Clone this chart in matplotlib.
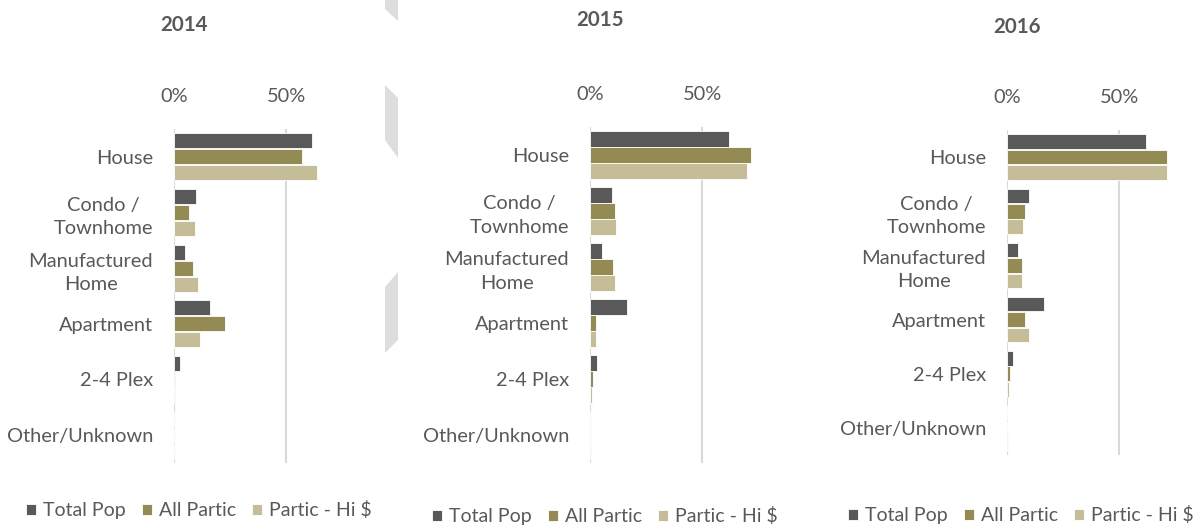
import matplotlib
matplotlib.use("Agg")
import matplotlib.pyplot as plt
import numpy as np
from matplotlib.patches import Polygon
from matplotlib.ticker import PercentFormatter

categories = ["House", "Condo /\nTownhome", "Manufactured\nHome", "Apartment", "2-4 Plex", "Other/Unknown"]
series_names = ["Total Pop", "All Partic", "Partic - Hi $"]
colors = ["#595959", "#948A54", "#C4BD97"]
years = ["2014", "2015", "2016"]

total_2014 = [61.5, 9.7, 5.0, 16.2, 2.5, 0.0]
partic_2014 = [57.0, 6.7, 8.5, 22.8, 0.5, 0.0]
hi_2014 = [64.0, 9.2, 10.6, 11.5, 0.5, 0.0]

total_2015 = [62.0, 10.0, 5.4, 16.7, 3.0, 0.0]
partic_2015 = [71.7, 11.0, 10.4, 2.5, 1.2, 0.0]
hi_2015 = [70.2, 11.6, 11.3, 2.5, 0.8, 0.5]

total_2016 = [62.0, 10.0, 5.0, 16.5, 2.8, 0.0]
partic_2016 = [71.6, 8.0, 6.9, 8.0, 1.3, 0.0]
hi_2016 = [71.6, 7.2, 6.6, 10.0, 1.0, 0.6]

panel_data = [
    [total_2014, partic_2014, hi_2014],
    [total_2015, partic_2015, hi_2015],
    [total_2016, partic_2016, hi_2016],
]

W, H = 1196, 525
text_color = "#595959"
plt.rcParams["font.family"] = ["Lato", "DejaVu Sans"]

fig = plt.figure(figsize=(W / 100, H / 100), dpi=100)

# axes boxes in pixels: left, top, bottom
boxes = [(174, 129, 463), (590, 127, 463), (1007, 130, 455)]
titles_pos = [(184, 25), (600, 20), (1017, 27)]
legend_pos = [(199, 510), (605, 516), (1021, 515)]

# light gray chevron fragments between first and second panel
shapes = [
    [(385, 0), (398, 0), (398, 21), (385, 9)],
    [(385, 85), (398, 98), (398, 158), (385, 140)],
    [(385, 287), (398, 272), (398, 340), (385, 353)],
]
for pts in shapes:
    fig.patches.append(Polygon([(x / W, 1 - y / H) for x, y in pts], closed=True,
                               transform=fig.transFigure, facecolor="#DDDDDD",
                               edgecolor="none"))

y = np.arange(len(categories))
bar_h = 0.27
offsets = [-0.285, 0.0, 0.285]
fs = 14.4

for i, year in enumerate(years):
    left, top, bottom = boxes[i]
    ax = fig.add_axes([left / W, 1 - bottom / H, 168 / W, (bottom - top) / H])
    for j, vals in enumerate(panel_data[i]):
        ax.barh(y + offsets[j], np.array(vals) / 100, height=bar_h, color=colors[j],
                edgecolor="white", linewidth=0.6, label=series_names[j], zorder=3)
    ax.set_xlim(0, 0.75)
    ax.set_ylim(len(categories) - 0.5, -0.5)
    ax.set_xticks([0, 0.5])
    ax.xaxis.set_major_formatter(PercentFormatter(1.0, decimals=0))
    ax.xaxis.tick_top()
    ax.grid(axis="x", color="#D9D9D9", linewidth=1.5, zorder=0)
    ax.set_yticks(y)
    ax.set_yticklabels(categories)
    for lab in ax.get_yticklabels():
        lab.set_multialignment("center")
        lab.set_linespacing(1.45)
    ax.tick_params(axis="x", length=0, pad=17, labelsize=fs, labelcolor=text_color)
    ax.tick_params(axis="y", length=0, pad=15, labelsize=fs, labelcolor=text_color)
    for s in ax.spines.values():
        s.set_visible(False)

    tx, ty = titles_pos[i]
    fig.text(tx / W, 1 - ty / H, year, ha="center", va="center", fontsize=14.8,
             fontweight="bold", color=text_color)

    lx, ly = legend_pos[i]
    ax.legend(loc="center", bbox_to_anchor=(lx / W, 1 - ly / H), bbox_transform=fig.transFigure,
              ncol=3, frameon=False, fontsize=14, labelcolor=text_color,
              handlelength=0.5, handleheight=0.5, handletextpad=0.35, columnspacing=0.85,
              borderaxespad=0, borderpad=0)

fig.savefig("out.png", dpi=100)
